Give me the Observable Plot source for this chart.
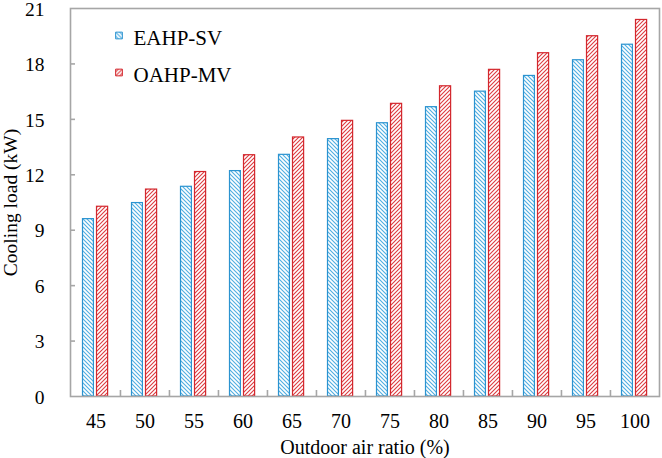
<!DOCTYPE html>
<html>
<head>
<meta charset="utf-8">
<script src="https://cdn.jsdelivr.net/npm/d3@7"></script>
<script src="https://cdn.jsdelivr.net/npm/@observablehq/plot@0.6"></script>
<style>
  html, body { margin: 0; padding: 0; background: #fff; }
  #chart svg { display: block; overflow: visible; }
</style>
</head>
<body>
<div id="chart"></div>
<script>
const ratios = ["45","50","55","60","65","70","75","80","85","90","95","100"];
const eahpSV = [9.6, 10.47, 11.35, 12.2, 13.08, 13.93, 14.79, 15.66, 16.5, 17.35, 18.2, 19.04];
const oahpMV = [10.27, 11.2, 12.15, 13.06, 14.02, 14.92, 15.84, 16.79, 17.68, 18.58, 19.5, 20.38];
const seriesNames = ["EAHP-SV", "OAHP-MV"];
const yTicks = [0, 3, 6, 9, 12, 15, 18, 21];

const W = 662, H = 458;
const mL = 70, mR = 3, mT = 8, mB = 62;
const frameW = W - mL - mR;
const step = frameW / ratios.length;
const pxPerUnit = (H - mT - mB) / 21;

const blueData = ratios.map((r, i) => ({ratio: r, value: eahpSV[i]}));
const redData = ratios.map((r, i) => ({ratio: r, value: oahpMV[i]}));

const BLUE = "#2B93D0", RED = "#D3272D", GRID = "#a6a6a6";
const font = "'Liberation Serif', 'Times New Roman', serif";

const plot = Plot.plot({
  width: W, height: H,
  marginLeft: mL, marginRight: mR, marginTop: mT, marginBottom: mB,
  style: {fontFamily: font, fontSize: "20px", color: "#000", background: "#fff"},
  x: {domain: ratios, padding: 0},
  y: {domain: [0, 21]},
  marks: [
    Plot.barY(blueData, {x: "ratio", y: "value", fill: "url(#hatchBlue)", stroke: BLUE, strokeWidth: 1.2,
      insetLeft: 11.5, insetRight: step - 22.5}),
    Plot.barY(redData, {x: "ratio", y: "value", fill: "url(#hatchRed)", stroke: RED, strokeWidth: 1.2,
      insetLeft: 25.5, insetRight: step - 36.7}),
    Plot.frame({stroke: GRID, strokeWidth: 1.6}),
    Plot.ruleX(ratios.slice(1), {x: d => d, dx: -step / 2, y1: 0, y2: 6 / pxPerUnit, stroke: GRID, strokeWidth: 1.6}),
    Plot.tickY(yTicks.slice(1, -1), {y: d => d, insetRight: frameW - 5, stroke: GRID, strokeWidth: 1.6}),
    Plot.axisY(yTicks, {anchor: "left", tickSize: 0, tickPadding: 26, dy: 1,
      fontSize: 19.5, label: "Cooling load (kW)", labelAnchor: "center", labelArrow: "none", labelOffset: 67}),
    Plot.axisX(ratios, {anchor: "bottom", tickSize: 0, tickPadding: 17, fontSize: 20,
      label: "Outdoor air ratio (%)", labelAnchor: "center", labelArrow: "none", labelOffset: 57}),
    Plot.dot([seriesNames[0]], {frameAnchor: "top-left", symbol: "square", r: 3.8, dx: 48.5, dy: 27,
      fill: "url(#hatchBlue)", stroke: BLUE, strokeWidth: 1}),
    Plot.dot([seriesNames[1]], {frameAnchor: "top-left", symbol: "square", r: 3.8, dx: 48.5, dy: 64,
      fill: "url(#hatchRed)", stroke: RED, strokeWidth: 1}),
    Plot.text([seriesNames[0]], {frameAnchor: "top-left", text: d => d, dx: 63, dy: 30, textAnchor: "start", lineAnchor: "middle", fontSize: 21}),
    Plot.text([seriesNames[1]], {frameAnchor: "top-left", text: d => d, dx: 63, dy: 67, textAnchor: "start", lineAnchor: "middle", fontSize: 21})
  ]
});

// hatch patterns
const svg = d3.select(plot);
const defs = svg.insert("defs", ":first-child");
const pb = defs.append("pattern").attr("id", "hatchBlue").attr("patternUnits", "userSpaceOnUse")
  .attr("width", 4).attr("height", 4);
pb.append("rect").attr("width", 4).attr("height", 4).attr("fill", "#fff");
pb.append("path").attr("d", "M-1,-1 L5,5 M-1,3 L1,5 M3,-1 L5,1").attr("stroke", "#4FAEE2").attr("stroke-width", 1.1);
const pr = defs.append("pattern").attr("id", "hatchRed").attr("patternUnits", "userSpaceOnUse")
  .attr("width", 4).attr("height", 4);
pr.append("rect").attr("width", 4).attr("height", 4).attr("fill", "#fff");
pr.append("path").attr("d", "M-1,5 L5,-1 M-1,1 L1,-1 M3,5 L5,3").attr("stroke", "#DE3A3F").attr("stroke-width", 1.1);

document.getElementById("chart").appendChild(plot);
</script>
</body>
</html>
